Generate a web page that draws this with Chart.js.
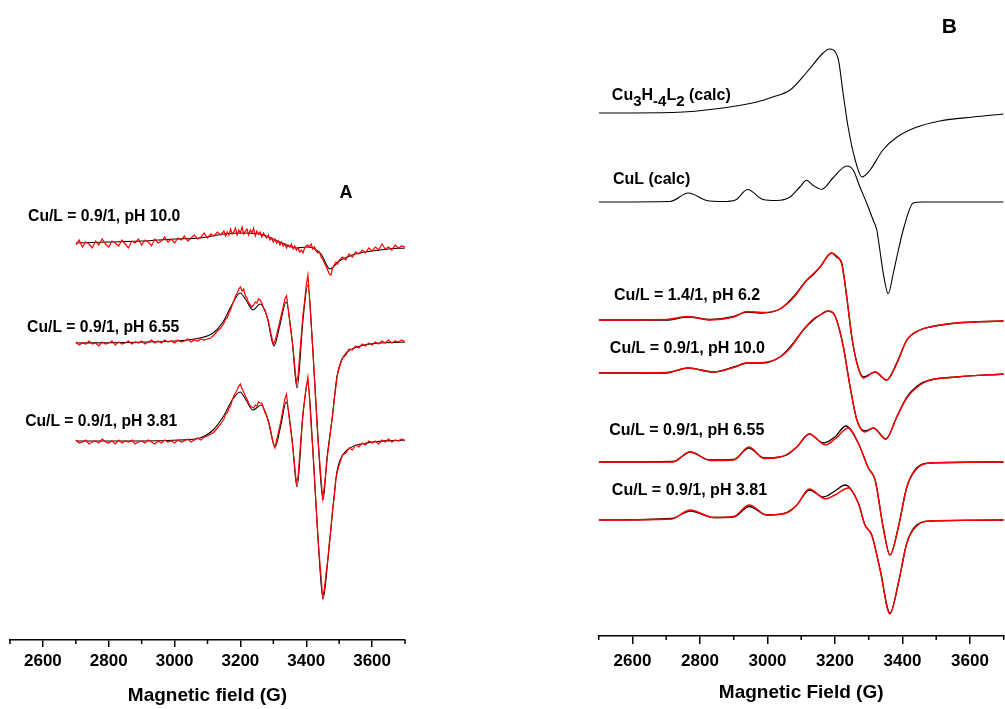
<!DOCTYPE html>
<html>
<head>
<meta charset="utf-8">
<script src="https://cdn.jsdelivr.net/npm/chart.js@4.4.1/dist/chart.umd.min.js"></script>
<style>
  html, body { margin: 0; padding: 0; background: #ffffff; }
  #wrap { position: relative; width: 1005px; height: 709px; overflow: hidden; background: #ffffff; }
  #wrap canvas { position: absolute; top: 0; }
  #cA { left: 0; }
  #cB { left: 590px; }
</style>
</head>
<body>
<div id="wrap">
  <canvas id="cA" width="420" height="709"></canvas>
  <canvas id="cB" width="415" height="709"></canvas>
</div>
<script>
// ---------- axis ----------
const fieldRange = [2500, 3700];
const tickLabels = ['2600', '2800', '3000', '3200', '3400', '3600'];
const minorTickValues = [2500, 2700, 2900, 3100, 3300, 3500, 3700];

// ---------- Panel A : experimental spectra (red), common field grid (G) ----------
const fieldA = [
  2700,2710,2720,2730,2740,2750,2760,2770,2780,2790,
  2800,2810,2820,2830,2840,2850,2860,2870,2880,2890,
  2900,2910,2920,2930,2940,2950,2960,2970,2980,2990,
  3000,3010,3020,3030,3040,3050,3060,3070,3080,3090,
  3100,3110,3120,3130,3140,
  3150,3155,3160,3165,3170,3175,3180,3185,3190,3195,
  3200,3205,3210,3215,3220,3225,3230,3235,3240,3245,
  3250,3255,3260,3265,3270,3275,3280,3285,3290,3295,
  3300,3305,3310,3315,3320,3325,3330,3335,3340,3345,
  3350,3355,3360,3365,3370,3375,3380,3385,3390,3395,
  3400,3405,3410,3415,3420,3425,3430,3435,3440,3445,
  3450,3455,3460,3465,3470,3475,3480,3485,3490,3495,
  3500,3510,3520,3530,3540,3550,3560,3570,3580,3590,
  3600,3610,3620,3630,3640,3650,3660,3670,3680,3690,
  3700
];

const expA_pH100 = [
  0,5,-2,3,1,-3,4,0,6,1,
  -2,4,2,-1,5,1,-3,4,2,6,
  0,5,3,-1,6,2,4,8,3,6,
  2,7,5,9,4,7,10,6,8,12,
  7,11,9,13,10,
  14,9,13,10,16,11,13,17,10,15,
  12,18,11,14,16,10,15,12,17,9,
  14,11,13,8,12,9,7,10,5,7,
  3,6,2,4,0,3,-1,1,-3,0,
  -2,1,-4,-1,-5,-3,-7,-5,-8,-3,
  -1,0,-2,1,-4,-2,-6,-8,-7,-12,
  -14,-18,-21,-25,-29,-30,-23,-20,-17,-19,
  -15,-12,-15,-9,-12,-7,-9,-5,-8,-3,
  -6,-2,-5,1,-4,-2,-5,0,-3,-1,
  -2
];

const expA_pH655 = [
  1,-2,0,-1,2,-1,0,-3,1,-1,
  0,2,-2,1,-1,0,2,-1,1,0,
  2,-1,1,3,0,2,0,3,1,2,
  0,3,1,2,4,1,3,2,4,3,
  4,5,8,12,15,
  20,24,25,30,33,38,42,47,50,54,
  56,52,54,47,45,40,38,36,38,41,
  40,44,43,40,35,33,27,22,14,6,
  -1,2,8,15,22,29,36,44,47,35,
  20,8,-5,-23,-40,-33,-12,8,28,42,
  58,68,45,18,-6,-36,-65,-93,-115,-136,
  -155,-143,-128,-111,-99,-84,-73,-57,-44,-31,
  -25,-15,-12,-6,-7,-3,-5,-1,-3,0,
  -2,1,-1,2,0,3,0,2,1,3,
  1
];

const expA_pH381 = [
  1,-2,-1,1,-3,-1,0,-2,2,-1,
  -2,0,-3,1,-2,0,-1,1,-3,-1,
  0,-2,1,-1,-3,0,-2,1,-1,0,
  -2,1,-1,0,2,-1,1,3,1,4,
  5,7,9,13,17,
  22,27,28,33,35,41,45,48,51,55,
  57,52,49,45,42,38,35,34,33,36,
  35,39,38,38,33,28,25,19,14,5,
  -2,-7,1,8,15,24,33,42,47,32,
  18,6,-9,-25,-42,-36,-14,7,28,41,
  55,64,42,15,-8,-36,-66,-94,-116,-136,
  -156,-148,-133,-120,-102,-88,-68,-56,-38,-30,
  -24,-14,-12,-7,-9,-4,-6,-2,-4,0,
  -2,0,-3,1,-1,2,-1,1,0,2,
  0
];

// ---------- Panel A : simulated spectra (black) ----------
const fitA_pH100_field = [2700,2800,2900,3000,3077,3150,3210,3270,3320,3370,3400,3420,3445,3472,3500,3540,3600,3650,3700];
const fitA_pH100       = [2,3,4,6,7,11,12,10,3,-3,-2,-3,-9,-24,-16,-10,-6,-4,-3];

const fitA_pH655_field = [2700,2850,3000,3077,3117,3147,3177,3199,3217,3238,3260,3281,3302,3320,3339,3357,3372,3390,3405,3420,3436,3451,3463,3478,3493,3506,3524,3554,3594,3700];
const fitA_pH655       = [0,0.5,2,5,10,21,40,50,43,33,39,26,-3,18,41,3,-45,23,58,-7,-97,-157,-115,-77,-34,-18,-9,-4,-1,1];

const fitA_pH381_field = [2700,2900,3016,3077,3117,3147,3177,3199,3217,3238,3263,3284,3305,3323,3339,3357,3372,3390,3405,3420,3436,3451,3466,3481,3493,3503,3524,3584,3700];
const fitA_pH381       = [0,0,1,3,11,24,42,49,41,31,36,21,-6,16,39,1,-46,26,58,-9,-99,-158,-118,-67,-31,-19,-9,-2,1];

// vertical stacking of the panel A spectra (a.u.)
const offsetsA = { pH100: 395, pH655: 297, pH381: 199 };
const levelRangeA = [0, 640];

// ---------- Panel B : calculated species spectra ----------
const calcCu3_field = [2500,2720,2868,2969,3016,3067,3117,3165,3183,3209,3224,3239,3260,3280,3304,3342,3384,3443,3511,3609,3700];
const calcCu3       = [0,0.5,5,11,16,23,41,60,64,55,20,-14,-47,-64,-57,-37,-24,-14,-8,-4,-1];

const calcCuL_field = [2500,2711,2766,2820,2868,2905,2941,2987,3027,3067,3096,3116,3135,3161,3194,3235,3254,3274,3294,3313,3324,3333,3343,3358,3373,3388,3403,3432,3461,3700];
const calcCuL       = [0,0.5,9,1.5,0.5,2,12.5,2.5,1.5,5,15,21.7,16.7,12.7,24,36,32,15,-1,-18,-28,-48,-71,-91.6,-71,-48,-27,-1,0,0];

// ---------- Panel B : measured (red) and simulated (black) spectra ----------
const fieldB_r14 = [2500,2700,2765,2830,2900,2940,2985,3037,3076,3117,3135,3156,3190,3205,3220,3235,3250,3265,3284,3319,3353,3383,3413,3452,3482,3561,3700];
const simB_r14   = [0,0,3,0.5,3.5,8,7,11,23,40,45,53,67,63,57,23,-17,-43,-57,-52,-60,-43,-20,-10,-7,-3,-1];
const expB_r14   = [0,0.5,3.5,0,3,8.5,7.5,11,22,40,46,53,67,64,56,23,-17,-43,-58,-52,-60,-44,-20,-10,-7,-3,-1];

const fieldB_pH100 = [2500,2700,2765,2840,2900,2940,2987,3037,3070,3106,3136,3156,3179,3195,3205,3225,3245,3265,3289,3314,3351,3383,3413,3452,3482,3561,3700];
const simB_pH100   = [0,0,5,1,6,10,10,16,27,43,53,58,62,60,53,26,-14,-47,-58,-55,-66,-44,-24,-11,-7,-4,-1];
const expB_pH100   = [0,0.5,5,1,5.5,10,10.5,16,26,43,54,58,62,60,53,26,-14,-47,-59,-55,-66,-44,-25,-12,-7,-4,-1];

const simB_pH655_field = [2500,2720,2771,2830,2900,2945,2990,3037,3057,3087,3124,3166,3200,3232,3269,3299,3319,3343,3363,3388,3413,3442,3482,3700];
const simB_pH655       = [0,0.5,10,2,2.5,14,4,5,7,15,28,19,25,36,19,-6,-18,-65,-93,-65,-25,-6,-1,0];
const expB_pH655_field = [2500,2720,2771,2830,2900,2945,2990,3037,3057,3087,3124,3172,3200,3240,3269,3299,3319,3343,3363,3388,3413,3442,3482,3700];
const expB_pH655       = [0,0,10,1.5,2,15,3.5,5,7.5,15,28,17,23,34,19,-6,-18,-66,-93,-65,-25,-7,-1,0];

const simB_pH381_field = [2500,2716,2771,2840,2900,2946,2998,3057,3087,3124,3166,3200,3230,3269,3289,3309,3334,3363,3388,3413,3442,3482,3700];
const simB_pH381       = [0,1.5,9,2.5,3,13.5,5,7.5,15,30,23,29,35,17,-5,-15,-50,-93,-63,-23,-5,-1,0];
const expB_pH381_field = [2500,2716,2771,2840,2900,2946,2998,3057,3087,3124,3172,3200,3240,3269,3289,3309,3334,3363,3388,3413,3442,3482,3700];
const expB_pH381       = [0,1,10,2.5,3.5,15,5,7,15,31,21,25,32,17,-5,-15,-50,-94,-63,-23,-6,-1,0];

// vertical stacking of the panel B spectra (a.u.)
const offsetsB = { cu3: 523, cuL: 434, r14: 316, pH100: 263, pH655: 174, pH381: 116 };
const levelRangeB = [0, 636];

// ---------- helpers ----------
const FONT = "'Liberation Sans', Arial, Helvetica, sans-serif";
Chart.defaults.font.family = FONT;
Chart.defaults.color = '#000';

function trace(field, values, offset) {
  const n = Math.min(field.length, values.length);
  const pts = [];
  for (let i = 0; i < n; i++) pts.push({ x: field[i], y: offset + values[i] });
  return pts;
}
function expLine(data, width, smooth) {
  return { data, borderColor: '#ff0000', borderWidth: width, pointRadius: 0, showLine: true,
           tension: 0, cubicInterpolationMode: smooth ? 'monotone' : 'default', fill: false };
}
function fitLine(data, width) {
  return { data, borderColor: '#000000', borderWidth: width, pointRadius: 0, showLine: true,
           cubicInterpolationMode: 'monotone', fill: false };
}

// minor tick marks between the labelled ones
const minorTicks = {
  id: 'minorTicks',
  afterDraw(chart, args, opts) {
    const sx = chart.scales.x, ctx = chart.ctx;
    ctx.save();
    ctx.strokeStyle = '#000';
    ctx.lineWidth = 1.5;
    for (const v of minorTickValues) {
      const px = sx.getPixelForValue(v);
      ctx.beginPath();
      ctx.moveTo(px, sx.top);
      ctx.lineTo(px, sx.top + opts.length);
      ctx.stroke();
    }
    ctx.restore();
  }
};

// spectrum labels, placed in data coordinates (field, level)
const traceLabels = {
  id: 'traceLabels',
  afterDatasetsDraw(chart, args, opts) {
    const { ctx } = chart, sx = chart.scales.x, sy = chart.scales.y;
    ctx.save();
    ctx.fillStyle = '#000';
    ctx.textBaseline = 'alphabetic';
    for (const item of opts.items) {
      const size = item.size || opts.size;
      ctx.font = `bold ${size}px ${FONT}`;
      let px = sx.getPixelForValue(item.field);
      const py = sy.getPixelForValue(item.level);
      if (item.align === 'center') {
        let w = 0;
        for (const [t] of item.parts) w += ctx.measureText(t).width;
        px -= w / 2;
      }
      for (const [t, sub] of item.parts) {
        ctx.font = `bold ${sub ? opts.subSize : size}px ${FONT}`;
        ctx.fillText(t, px, py + (sub ? opts.subShift : 0));
        px += ctx.measureText(t).width;
      }
    }
    ctx.restore();
  }
};

function panelOptions(cfg) {
  return {
    responsive: false,
    animation: false,
    events: [],
    layout: { padding: { left: cfg.padLeft, right: cfg.padRight, top: 0, bottom: 0 } },
    plugins: {
      legend: { display: false },
      tooltip: { enabled: false },
      minorTicks: { length: cfg.minorLen },
      traceLabels: { items: cfg.labels, size: cfg.labelSize, subSize: 15, subShift: 6 }
    },
    scales: {
      x: {
        type: 'linear',
        min: fieldRange[0],
        max: fieldRange[1],
        afterFit(scale) {
          scale.height = cfg.axisHeight;
          scale.paddingLeft = 0;
          scale.paddingRight = 0;
        },
        border: { display: true, color: '#000', width: 1.5 },
        grid: {
          drawOnChartArea: false,
          drawTicks: true,
          tickLength: cfg.majorLen,
          lineWidth: 1.5,
          color: (c) => (c.tick && tickLabels.includes(String(c.tick.value))) ? '#000' : 'rgba(0,0,0,0)'
        },
        ticks: {
          stepSize: 100,
          autoSkip: false,
          maxRotation: 0,
          padding: cfg.tickPad,
          color: '#000',
          font: { family: FONT, size: 17, weight: 'bold' },
          callback: (v) => tickLabels.includes(String(v)) ? String(v) : ''
        },
        title: {
          display: true,
          text: cfg.title,
          color: '#000',
          font: { family: FONT, size: 19, weight: 'bold' },
          padding: { top: 0, bottom: cfg.titlePad }
        }
      },
      y: {
        type: 'linear',
        display: false,
        min: cfg.levels[0],
        max: cfg.levels[1]
      }
    }
  };
}

// ---------- Panel A ----------
new Chart(document.getElementById('cA'), {
  type: 'scatter',
  data: {
    datasets: [
      expLine(trace(fieldA, expA_pH100, offsetsA.pH100), 1.2, false),
      expLine(trace(fieldA, expA_pH655, offsetsA.pH655), 1.2, false),
      expLine(trace(fieldA, expA_pH381, offsetsA.pH381), 1.2, false),
      fitLine(trace(fitA_pH100_field, fitA_pH100, offsetsA.pH100), 1.1),
      fitLine(trace(fitA_pH655_field, fitA_pH655, offsetsA.pH655), 1.1),
      fitLine(trace(fitA_pH381_field, fitA_pH381, offsetsA.pH381), 1.1)
    ]
  },
  options: panelOptions({
    padLeft: 10, padRight: 15, axisHeight: 69, majorLen: 7, minorLen: 4, tickPad: 4, titlePad: 2,
    title: 'Magnetic field (G)', levels: levelRangeA, labelSize: 15.7,
    labels: [
      { field: 2555, level: 419, parts: [['Cu/L = 0.9/1, pH 10.0']] },
      { field: 2552, level: 308, parts: [['Cu/L = 0.9/1, pH 6.55']] },
      { field: 2546, level: 214, parts: [['Cu/L = 0.9/1, pH 3.81']] },
      { field: 3521, level: 442, parts: [['A']], size: 18, align: 'center' }
    ]
  }),
  plugins: [minorTicks, traceLabels]
});

// ---------- Panel B ----------
new Chart(document.getElementById('cB'), {
  type: 'scatter',
  data: {
    datasets: [
      expLine(trace(fieldB_r14, expB_r14, offsetsB.r14), 1.4, true),
      expLine(trace(fieldB_pH100, expB_pH100, offsetsB.pH100), 1.4, true),
      expLine(trace(expB_pH655_field, expB_pH655, offsetsB.pH655), 1.4, true),
      expLine(trace(expB_pH381_field, expB_pH381, offsetsB.pH381), 1.4, true),
      fitLine(trace(calcCu3_field, calcCu3, offsetsB.cu3), 1.1),
      fitLine(trace(calcCuL_field, calcCuL, offsetsB.cuL), 1.1),
      fitLine(trace(fieldB_r14, simB_r14, offsetsB.r14), 1.3),
      fitLine(trace(fieldB_pH100, simB_pH100, offsetsB.pH100), 1.3),
      fitLine(trace(simB_pH655_field, simB_pH655, offsetsB.pH655), 1.3),
      fitLine(trace(simB_pH381_field, simB_pH381, offsetsB.pH381), 1.3)
    ]
  },
  options: panelOptions({
    padLeft: 8.7, padRight: 1.3, axisHeight: 73, majorLen: 8, minorLen: 4, tickPad: 7, titlePad: 4.5,
    title: 'Magnetic Field (G)', levels: levelRangeB, labelSize: 16,
    labels: [
      { field: 2539, level: 536, parts: [['Cu'], ['3', 1], ['H'], ['-4', 1], ['L'], ['2', 1], [' (calc)']] },
      { field: 2542, level: 452, parts: [['CuL (calc)']] },
      { field: 2545, level: 336, parts: [['Cu/L = 1.4/1, pH 6.2']] },
      { field: 2533, level: 283, parts: [['Cu/L = 0.9/1, pH 10.0']] },
      { field: 2531, level: 201, parts: [['Cu/L = 0.9/1, pH 6.55']] },
      { field: 2539, level: 141, parts: [['Cu/L = 0.9/1, pH 3.81']] },
      { field: 3539, level: 603, parts: [['B']], size: 21, align: 'center' }
    ]
  }),
  plugins: [minorTicks, traceLabels]
});
</script>
</body>
</html>
